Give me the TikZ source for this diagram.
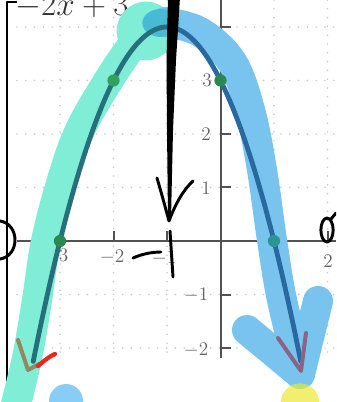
\documentclass[tikz,border=0pt]{standalone}
\begin{document}
\begin{tikzpicture}[x=0.75pt,y=-0.75pt,line cap=round,line join=round,
  gridln/.style={draw=black!20,line width=1.4pt,dash pattern=on 0pt off 6.6pt},
  axisln/.style={draw=black!68,line width=1.5pt,line cap=butt},
  lbl/.style={font=\fontsize{15}{15}\selectfont,text=black!62,inner sep=0pt},
  ink/.style={draw=black,line width=2.2pt},
  hl/.style={line width=22.5pt}]
\definecolor{hlteal}{RGB}{128,238,214}
\definecolor{hlblue}{RGB}{120,196,238}
\definecolor{hlblob}{RGB}{72,186,214}
\definecolor{hlyellow}{RGB}{242,238,112}
\definecolor{hlolive}{RGB}{192,222,112}
\definecolor{hlblue2}{RGB}{135,205,245}
\definecolor{curveL}{RGB}{38,112,124}
\definecolor{curveR}{RGB}{42,104,160}
\definecolor{dotg}{RGB}{52,160,96}
\definecolor{dott}{RGB}{42,150,146}
\definecolor{mauve}{RGB}{138,100,132}
\definecolor{brownish}{RGB}{150,135,100}
\definecolor{redmark}{RGB}{236,40,30}
\useasboundingbox (0,0) rectangle (336,402);
\clip (0,0) rectangle (336,402);
% grid
\foreach \yy in {27,80.5,134,187.5,294.5,348} \draw[gridln] (17,\yy) -- (336,\yy);
\foreach \xx in {60,113.5,167,274,327.5} \draw[gridln] (\xx,0) -- (\xx,358);
% axes and ticks
\draw[axisln] (17,241) -- (336,241);
\draw[axisln] (220.5,0) -- (220.5,358);
\foreach \yy in {27,80.5,134,187.5,294.5,348} \draw[axisln] (220.5,\yy) -- (231,\yy);
\foreach \xx in {60,113.5,167,274,327.5} \draw[axisln] (\xx,241) -- (\xx,231);
% labels
\node[lbl] (ly4) at (206,27) {$4$};
\node[lbl] (ly3) at (207,80) {$3$};
\node[lbl] (ly2) at (206,134) {$2$};
\node[lbl] (ly1) at (206,188) {$1$};
\node[lbl] (lym1) at (196,295) {$-1$};
\node[lbl] (lym2) at (196,350) {$-2$};
\node[lbl] (lxm3) at (56,256) {$-3$};
\node[lbl] (lxm2) at (112,257) {$-2$};
\node[lbl] (lxm1) at (164,258) {$-1$};
\node[lbl] (lx1) at (277,261) {$1$};
\node[lbl] (lx2) at (328,261) {$2$};
% equation text at top (cut by the top edge, as in the reference)
\node[anchor=base west,font=\fontsize{25}{25}\selectfont,text=black!80,inner sep=0pt] (eq) at (15,16) {$-2x+3$};
% left bracket
\draw[line width=1.2pt,line cap=butt] (17,2) -- (7,2) -- (7,400) -- (17,400);
% teal highlighter
\draw[hl,draw=hlteal] plot[smooth,tension=0.6] coordinates {(14,412) (27,358) (37,300) (46,241) (62,180) (80,130) (110,78) (135,42) (150,28)};
\fill[hlteal] (146,31) circle (22pt);
% blue highlighter
\draw[hl,draw=hlblue] plot[smooth,tension=0.6] coordinates {(165,22) (200,32) (232,62) (250,110) (262,170) (272,240) (282,300) (300,374)};
\draw[hl,draw=hlblue] (247,330) -- (300,374) -- (318,301);
\fill[hlblob] (161,23) circle[x radius=14pt,y radius=10.5pt];
% yellow and blue small blobs
\fill[hlyellow] (300,403) circle (14.5pt);
\begin{scope}
\clip (300,403) circle (14.5pt);
\fill[hlolive] (300,374) circle (11.25pt);
\end{scope}
\fill[hlblue2] (66,401) circle (12.75pt);
% curve
\draw[curveL,line width=3.6pt,domain=-3.5:-0.95,samples=50] plot ({220.5+53.5*\x},{241-53.5*(-(\x)*(\x)-2*(\x)+3)});
\draw[curveR,line width=3.6pt,domain=-1:1.5,samples=50] plot ({220.5+53.5*\x},{241-53.5*(-(\x)*(\x)-2*(\x)+3)});
% points
\fill[dotg] (113.5,80.5) circle (4.6pt);
\fill[dotg!85!black] (220.5,80.5) circle (4.6pt);
\fill[dotg!85!black] (60,241) circle (4.6pt);
\fill[dott] (274,241) circle (4.6pt);
% coloured hand marks
\draw[draw=mauve,line width=3pt] (278,338) -- (301,371) -- (306,333);
\draw[draw=brownish,line width=3pt] (18,340) -- (28,370) -- (39,364);
\draw[draw=redmark,line width=3.2pt] (38,366) .. controls (45,360) and (50,356) .. (55,354);
% black hand marks
\fill[black] (168,-3) -- (180,-3) -- (176,60) -- (173,130) -- (171,219) -- (168,219) -- (167,130) -- (166.5,60) -- cycle;
\draw[ink] (157,178) .. controls (162,195) and (166,210) .. (169,221) .. controls (175,205) and (183,190) .. (193,181);
\draw[ink] (133,258) .. controls (142,254) and (152,252) .. (161,252);
\draw[ink] (170,231) -- (173,277);
\draw[ink] (0,221) .. controls (20,224) and (20,256) .. (0,259);
\draw[ink] (327,230) circle[x radius=4.6pt,y radius=9pt];
\draw[ink] (331,219) -- (336,213);
\end{tikzpicture}
\end{document}
